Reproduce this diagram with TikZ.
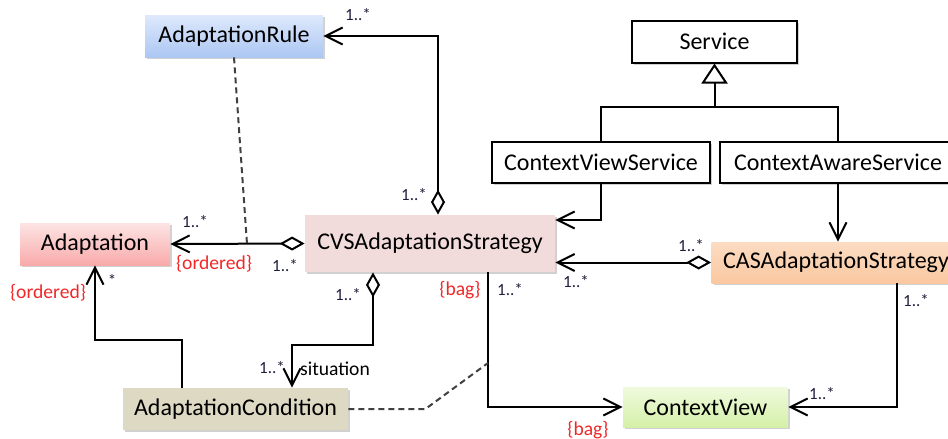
\documentclass[tikz,border=0pt]{standalone}
\usepackage{fontspec}
\setmainfont{Carlito}
\usetikzlibrary{arrows.meta,calc,shadows}
\definecolor{multc}{RGB}{30,30,60}
\definecolor{conred}{RGB}{240,40,40}

\begin{document}
\begin{tikzpicture}[x=0.5pt, y=-0.5pt,
    cls/.style={inner sep=0pt, minimum height=21pt, font=\fontsize{12}{14}\selectfont, drop shadow={shadow xshift=1pt, shadow yshift=-1pt, fill=black!45, opacity=0.4}},
    svcbox/.style={cls, draw, line width=1pt, fill=white},
    arr/.style={-{Straight Barb[length=8.5pt,width=8.5pt]}, line width=1pt},
    agg/.style={arr, {Diamond[open,length=12.5pt,width=7pt]}-{Straight Barb[length=8.5pt,width=8.5pt]}},
    gen/.style={-{Triangle[open,length=10pt,width=13pt]}, line width=1pt},
    link/.style={dash pattern=on 3pt off 2pt, line width=1pt, black!75},
    mult/.style={font=\fontsize{8.5}{9}\selectfont, text=multc, inner sep=0pt},
    lbl/.style={font=\fontsize{9.8}{11}\selectfont, inner sep=0pt},
    con/.style={lbl, text=conred}
]
\useasboundingbox (0,0) rectangle (948,439);
\clip (0,0) rectangle (948,439);

\node[cls, minimum width=89pt, top color={rgb,255:red,222;green,233;blue,252}, bottom color={rgb,255:red,172;green,199;blue,243}] (rule) at (234,36) {AdaptationRule};
\node[cls, minimum width=75pt, top color={rgb,255:red,253;green,228;blue,228}, bottom color={rgb,255:red,249;green,170;blue,170}] (adapt) at (95,244) {Adaptation};
\node[cls, minimum width=125pt, minimum height=28.5pt, fill={rgb,255:red,242;green,220;blue,219}] (cvs) at (430,243.5) {CVSAdaptationStrategy};
\node[svcbox, minimum width=82.5pt] (svc) at (714.5,41.5) {Service};
\node[svcbox, minimum width=109pt, minimum height=20.5pt] (cvsvc) at (601,162.5) {ContextViewService};
\node[svcbox, minimum width=118pt, minimum height=20.5pt] (casvc) at (838,162.5) {ContextAwareService};
\node[cls, minimum width=124.5pt, minimum height=20.5pt, top color={rgb,255:red,252;green,220;blue,195}, bottom color={rgb,255:red,250;green,200;blue,160}] (cas) at (836,262.5) {CASAdaptationStrategy};
\node[cls, minimum width=112.5pt, fill={rgb,255:red,221;green,217;blue,195}] (cond) at (235.5,409) {AdaptationCondition};
\node[cls, minimum width=82.5pt, minimum height=20pt, top color={rgb,255:red,240;green,250;blue,222}, bottom color={rgb,255:red,212;green,240;blue,168}] (view) at (705.5,407) {ContextView};

\coordinate (rulelink) at (247,244);
\coordinate (viewlink) at (488,363);
\coordinate (genjoin) at (714.5,107);

% generalization
\draw[gen] (genjoin) -- (svc.south);
\draw[line width=1pt] (cvsvc.north) |- (genjoin) -| (casvc.north);

% associations
\draw[agg] ($(cvs.north)+(8,0)$) |- (rule.east);
\draw[agg] (cvs.west) -- (adapt.east);
\draw[arr] ($(cond.north)+(-54,0)$) -- ++(0,-48) -| (adapt.south);
\draw[agg] ($(cvs.south)+(-57,0)$) -- ++(0,73) -| ($(cond.north)+(56.5,0)$);
\draw[arr] ($(cvs.south)+(58,0)$) |- (view.west);
\draw[arr] (cvsvc.south) |- ($(cvs.east)+(0,-23.5)$);
\draw[agg] (cas.west) -- (cas.west -| cvs.east);
\draw[arr] (casvc.south) -- (casvc.south |- cas.north);
\draw[arr] ($(cas.south)+(61,0)$) |- (view.east);

% association class links
\draw[link] (rule.south) -- (rulelink);
\draw[link] (cond.east) -- ++(77,0) -- (viewlink);

% multiplicities and constraints
\node[mult] (m1) at (358,15) {1..*};
\node[mult] (m2) at (414,195) {1..*};
\node[mult] (m3) at (195,222) {1..*};
\node[con] (c1) at (214,264) {\{ordered\}};
\node[mult] (m4) at (285,266) {1..*};
\node[con] (c2) at (48,293) {\{ordered\}};
\node[mult] (m5) at (112,280) {*};
\node[mult] (m6) at (348,295) {1..*};
\node[mult] (m7) at (272,368) {1..*};
\node[lbl] (sit) at (335,369) {situation};
\node[con] (c3) at (460,290) {\{bag\}};
\node[mult] (m8) at (510,290) {1..*};
\node[mult] (m9) at (576,282) {1..*};
\node[mult] (m10) at (691,246) {1..*};
\node[mult] (m11) at (916,301) {1..*};
\node[mult] (m12) at (822,394) {1..*};
\node[con] (c4) at (588,430) {\{bag\}};
\end{tikzpicture}
\end{document}
